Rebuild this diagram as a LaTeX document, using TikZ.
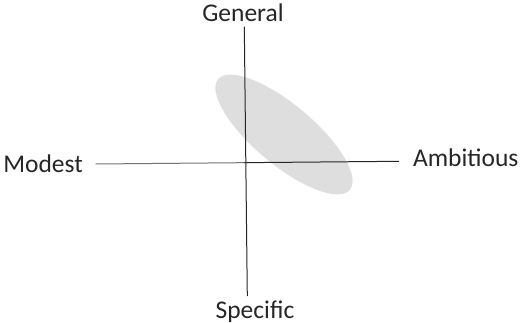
\documentclass[tikz,border=0pt]{standalone}
\usepackage{fontspec}
\setmainfont{Carlito}
\usetikzlibrary{calc}
\begin{document}
\begin{tikzpicture}[x=1pt,y=1pt,
  lbl/.style={inner sep=0pt, outer sep=0pt, font=\fontsize{25.5}{30}\selectfont, text=black!85},
  axis/.style={line width=1pt, draw=black!85},
  blob/.style={fill=black!13, draw=none}]
\useasboundingbox (0,0) rectangle (530,322);
\fill[blob] (284,187.5) ellipse [x radius=86, y radius=30, rotate=-40];
\coordinate (vt) at (244.3,295.3);
\coordinate (vb) at (247.3,26);
\coordinate (hl) at (95.7,158);
\coordinate (hr) at (399,160.7);
\draw[axis, draw=black!55] (hl) -- ($(hl)!0.5!(hr)$);
\draw[axis] ($(hl)!0.49!(hr)$) -- (hr);
\draw[axis] (vt) -- (vb);
\node[lbl, anchor=base] (gen) at (243,300.5) {General};
\node[lbl, anchor=base west] (mod) at (3.3,149.5) {Modest};
\node[lbl, anchor=base west] (amb) at (413,155.3) {Ambitious};
\node[lbl, anchor=base] (spe) at (255,4) {Specific};
\end{tikzpicture}
\end{document}
